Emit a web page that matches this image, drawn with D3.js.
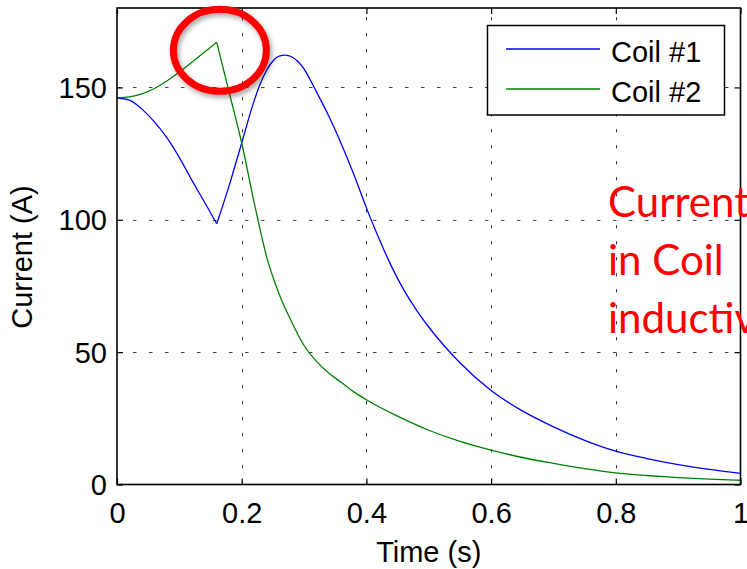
<!DOCTYPE html>
<html>
<head>
<meta charset="utf-8">
<script src="https://cdn.jsdelivr.net/npm/d3@7"></script>
<style>
  html, body { margin: 0; padding: 0; background: #fff; }
  svg { display: block; }
</style>
</head>
<body>
<script>
// ---- data ----
const coil1T = [0, 0.02, 0.04, 0.06, 0.08, 0.10, 0.12, 0.14, 0.16, 0.18, 0.20, 0.22, 0.23, 0.24, 0.25, 0.26, 0.27, 0.28, 0.29, 0.30, 0.31, 0.32, 0.34, 0.36, 0.38, 0.40, 0.42, 0.44, 0.46, 0.48, 0.50, 0.55, 0.60, 0.65, 0.70, 0.75, 0.80, 0.85, 0.90, 0.95, 1.00];
const coil1I = [146, 145.2, 141.8, 137, 131, 123.5, 115, 106.8, 98.5, 113, 129, 145, 151.5, 156.5, 160, 161.8, 162.2, 161.6, 159.8, 157, 152.8, 148.3, 139, 128.5, 117, 104.5, 93, 82.5, 73.5, 66, 59.5, 46, 35.5, 27.8, 21.8, 16.7, 12.6, 9.8, 7.5, 5.7, 4.2];
const coil2T = [0, 0.02, 0.04, 0.06, 0.08, 0.10, 0.12, 0.14, 0.16, 0.18, 0.20, 0.22, 0.24, 0.26, 0.28, 0.30, 0.32, 0.34, 0.36, 0.38, 0.40, 0.45, 0.50, 0.55, 0.60, 0.65, 0.70, 0.75, 0.80, 0.85, 0.90, 0.95, 1.00];
const coil2I = [146, 146.4, 147.6, 149.6, 152.4, 155.8, 159.5, 163.3, 167, 148, 129, 106.5, 86, 72, 61.5, 52.5, 46.5, 42, 38.5, 35, 32, 25.8, 20.5, 16.3, 13, 10.2, 8, 6, 4.4, 3.4, 2.6, 2, 1.6];
const switchTime = 0.16;
const xTicks = [0, 0.2, 0.4, 0.6, 0.8, 1];
const xTickLabels = ["0", "0.2", "0.4", "0.6", "0.8", "1"];
const yTicks = [0, 50, 100, 150];
const seriesNames = ["Coil #1", "Coil #2"];
const seriesColors = ["#0000ff", "#008000"];
const noteLines = ["Current", "in Coil", "inductive"];

// ---- layout ----
const W = 747, H = 569;
const L = 117, R = 740.5, T = 8, B = 484.5;
const font = "'Liberation Sans', Arial, Helvetica, sans-serif";

const svg = d3.select("body").append("svg").attr("width", W).attr("height", H)
  .attr("viewBox", `0 0 ${W} ${H}`);

const x = d3.scaleLinear().domain([0, 1]).range([L, R]);
const y = d3.scaleLinear().domain([0, 180]).range([B, T]);

// grid
const grid = svg.append("g").attr("stroke", "#444").attr("stroke-width", 1)
  .attr("stroke-dasharray", "3.5,12.5");
grid.selectAll("line.v").data(xTicks.filter(d => d > 0 && d < 1)).join("line")
  .attr("x1", d => Math.round(x(d)) + 0.5).attr("x2", d => Math.round(x(d)) + 0.5)
  .attr("y1", B).attr("y2", T);
grid.selectAll("line.h").data(yTicks.filter(d => d > 0)).join("line")
  .attr("y1", d => Math.round(y(d)) + 0.5).attr("y2", d => Math.round(y(d)) + 0.5)
  .attr("x1", L).attr("x2", R);

// lines (split at the switching instant so the corner stays sharp)
const series = [
  coil1T.map((t, i) => [t, coil1I[i]]),
  coil2T.map((t, i) => [t, coil2I[i]])
];
const line = d3.line().x(d => x(d[0])).y(d => y(d[1])).curve(d3.curveMonotoneX);
series.forEach((s, i) => {
  const a = s.filter(d => d[0] <= switchTime);
  const b = s.filter(d => d[0] >= switchTime);
  svg.append("path").attr("d", line(a) + " " + line(b)).attr("fill", "none")
    .attr("stroke", seriesColors[i]).attr("stroke-width", 1.3);
});

// axes (MATLAB style: inward ticks, box)
const tickLen = 6;
const axB = svg.append("g").attr("transform", `translate(0,${B})`)
  .call(d3.axisBottom(x).tickValues(xTicks).tickFormat((d, i) => xTickLabels[i]).tickSizeInner(-tickLen).tickSizeOuter(0).tickPadding(0));
const axT = svg.append("g").attr("transform", `translate(0,${T})`)
  .call(d3.axisTop(x).tickValues(xTicks).tickFormat("").tickSizeInner(-tickLen).tickSizeOuter(0));
const axL = svg.append("g").attr("transform", `translate(${L},0)`)
  .call(d3.axisLeft(y).tickValues(yTicks).tickSizeInner(-tickLen).tickSizeOuter(0).tickPadding(0));
const axR = svg.append("g").attr("transform", `translate(${R},0)`)
  .call(d3.axisRight(y).tickValues(yTicks).tickFormat("").tickSizeInner(-tickLen).tickSizeOuter(0));
[axB, axT, axL, axR].forEach(a => {
  a.select(".domain").remove();
  a.selectAll(".tick line").attr("stroke", "#000").attr("stroke-width", 1.2);
});
axB.selectAll(".tick text").attr("font-family", font).attr("font-size", 29)
  .attr("fill", "#000").attr("dy", null).attr("y", 38.5);
axL.selectAll(".tick text").attr("font-family", font).attr("font-size", 29)
  .attr("fill", "#000").attr("x", -10).attr("dy", "0.35em");

// box
svg.append("rect").attr("x", L).attr("y", T).attr("width", R - L).attr("height", B - T)
  .attr("fill", "none").attr("stroke", "#000").attr("stroke-width", 1.6);

// axis labels
svg.append("text").attr("x", (L + R) / 2).attr("y", 561.5).attr("text-anchor", "middle")
  .attr("font-family", font).attr("font-size", 29).text("Time (s)");
svg.append("text").attr("transform", "translate(32,257) rotate(-90)").attr("text-anchor", "middle")
  .attr("font-family", font).attr("font-size", 29).text("Current (A)");

// legend
const lg = svg.append("g");
lg.append("rect").attr("x", 487.5).attr("y", 25.5).attr("width", 237).attr("height", 89.5)
  .attr("fill", "#fff").attr("stroke", "#000").attr("stroke-width", 1.5);
seriesNames.forEach((n, i) => {
  const ly = 49 + i * 40;
  lg.append("line").attr("x1", 506).attr("x2", 600).attr("y1", ly).attr("y2", ly)
    .attr("stroke", seriesColors[i]).attr("stroke-width", 1.3);
  lg.append("text").attr("x", 611).attr("y", ly + 12.5).attr("font-family", font)
    .attr("font-size", 29).attr("fill", "#000").text(n);
});

// annotation: red ellipse with shadow
const defs = svg.append("defs");
const f = defs.append("filter").attr("id", "shadow").attr("x", "-30%").attr("y", "-30%")
  .attr("width", "160%").attr("height", "160%");
f.append("feDropShadow").attr("dx", 2).attr("dy", 3).attr("stdDeviation", 2.5)
  .attr("flood-color", "#000").attr("flood-opacity", 0.35);
svg.append("ellipse").attr("cx", x(0.165)).attr("cy", y(164)).attr("rx", 46.5).attr("ry", 41)
  .attr("fill", "none").attr("stroke", "#ff0000").attr("stroke-width", 7)
  .attr("filter", "url(#shadow)");

// annotation text (runs past the right edge, as in the original slide)
const note = svg.append("g").attr("font-family", "Lato, 'Open Sans', sans-serif")
  .attr("font-size", 42).attr("fill", "#ff0000");
noteLines.forEach((s, i) => {
  note.append("text").attr("x", 608).attr("y", 217 + i * 58).text(s);
});
</script>
</body>
</html>
